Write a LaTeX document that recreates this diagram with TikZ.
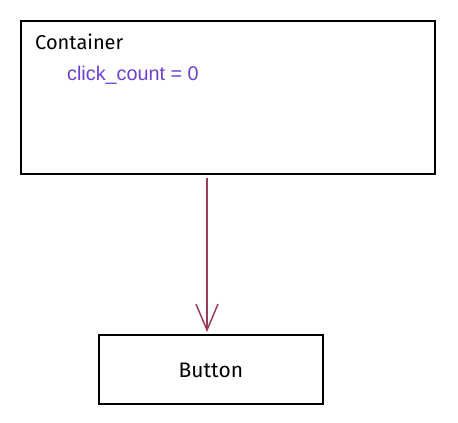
\documentclass[tikz,border=0pt]{standalone}
\usepackage{fontspec}
\setmainfont{Liberation Sans}
\newfontfamily\handfont{Fira Sans}
\usetikzlibrary{arrows.meta}
\definecolor{arrowred}{HTML}{9C3B5E}
\definecolor{varpurple}{HTML}{6B3FD1}
\tikzset{
  box/.style={draw=black, line width=1.7pt, fill=white, inner sep=0pt},
  lbl/.style={font=\handfont\fontsize{20}{24}\selectfont, text=black, inner sep=0pt},
  var/.style={font=\fontsize{19.8}{23}\selectfont, text=varpurple, inner sep=0pt},
  link/.style={draw=arrowred, line width=1.5pt, -{Straight Barb[length=26pt,width=22pt,line width=1.5pt]}}
}
\begin{document}
\begin{tikzpicture}[x=1pt,y=-1pt]
\useasboundingbox (0,0) rectangle (458,423);
\node[box, minimum width=414pt, minimum height=153pt, anchor=north west] (cont) at (20,20) {};
\node[lbl, anchor=west] (ctitle) at (35,42) {Container};
\node[var, anchor=west] (cvar) at (67,75) {click\_count = 0};
\node[box, minimum width=224pt, minimum height=69pt, anchor=north west] (btn) at (98,334) {};
\node[lbl, font=\handfont\fontsize{21}{24}\selectfont] (btitle) at ([yshift=-1pt]btn.center) {Button};
\coordinate (astart) at (207,178);
\coordinate (aend) at (207,332);
\draw[link] (astart) -- (aend);
\end{tikzpicture}
\end{document}
